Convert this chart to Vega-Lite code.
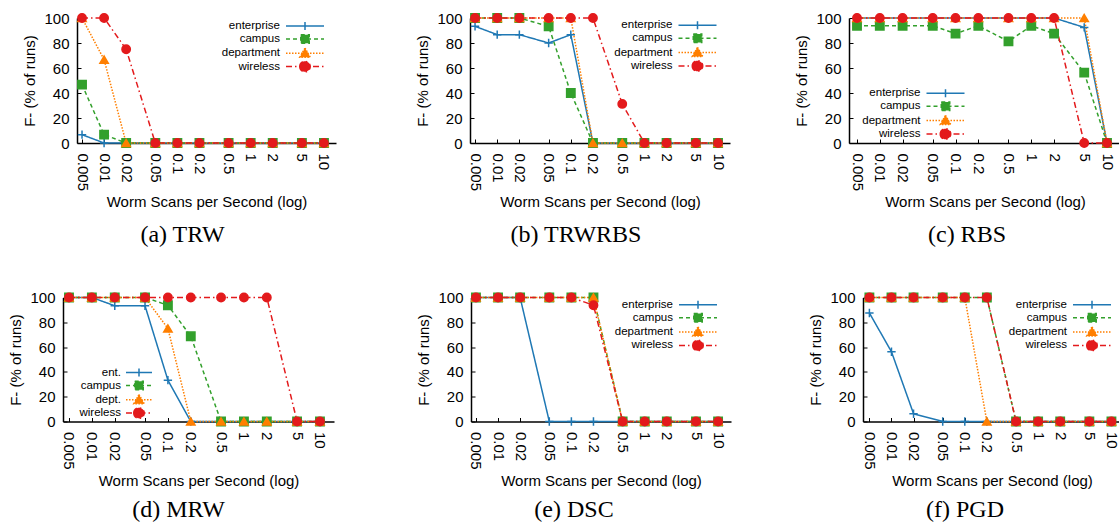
{
"$schema": "https://vega.github.io/schema/vega-lite/v6.json",
"padding": {"left": 8, "top": 10, "right": 0, "bottom": 0},
"background": "white",
"data": {"values": [
{"p":"a","s":"enterprise","x":0.005,"y":6.67},{"p":"a","s":"enterprise","x":0.01,"y":0},{"p":"a","s":"enterprise","x":0.02,"y":0},{"p":"a","s":"enterprise","x":0.05,"y":0},{"p":"a","s":"enterprise","x":0.1,"y":0},{"p":"a","s":"enterprise","x":0.2,"y":0},{"p":"a","s":"enterprise","x":0.5,"y":0},{"p":"a","s":"enterprise","x":1,"y":0},{"p":"a","s":"enterprise","x":2,"y":0},{"p":"a","s":"enterprise","x":5,"y":0},{"p":"a","s":"enterprise","x":10,"y":0},
{"p":"a","s":"campus","x":0.005,"y":46.67},{"p":"a","s":"campus","x":0.01,"y":6.67},{"p":"a","s":"campus","x":0.02,"y":0},{"p":"a","s":"campus","x":0.05,"y":0},{"p":"a","s":"campus","x":0.1,"y":0},{"p":"a","s":"campus","x":0.2,"y":0},{"p":"a","s":"campus","x":0.5,"y":0},{"p":"a","s":"campus","x":1,"y":0},{"p":"a","s":"campus","x":2,"y":0},{"p":"a","s":"campus","x":5,"y":0},{"p":"a","s":"campus","x":10,"y":0},
{"p":"a","s":"department","x":0.005,"y":100},{"p":"a","s":"department","x":0.01,"y":66.67},{"p":"a","s":"department","x":0.02,"y":0},{"p":"a","s":"department","x":0.05,"y":0},{"p":"a","s":"department","x":0.1,"y":0},{"p":"a","s":"department","x":0.2,"y":0},{"p":"a","s":"department","x":0.5,"y":0},{"p":"a","s":"department","x":1,"y":0},{"p":"a","s":"department","x":2,"y":0},{"p":"a","s":"department","x":5,"y":0},{"p":"a","s":"department","x":10,"y":0},
{"p":"a","s":"wireless","x":0.005,"y":100},{"p":"a","s":"wireless","x":0.01,"y":100},{"p":"a","s":"wireless","x":0.02,"y":75},{"p":"a","s":"wireless","x":0.05,"y":0},{"p":"a","s":"wireless","x":0.1,"y":0},{"p":"a","s":"wireless","x":0.2,"y":0},{"p":"a","s":"wireless","x":0.5,"y":0},{"p":"a","s":"wireless","x":1,"y":0},{"p":"a","s":"wireless","x":2,"y":0},{"p":"a","s":"wireless","x":5,"y":0},{"p":"a","s":"wireless","x":10,"y":0},
{"p":"b","s":"enterprise","x":0.005,"y":93.33},{"p":"b","s":"enterprise","x":0.01,"y":86.67},{"p":"b","s":"enterprise","x":0.02,"y":86.67},{"p":"b","s":"enterprise","x":0.05,"y":80},{"p":"b","s":"enterprise","x":0.1,"y":86.67},{"p":"b","s":"enterprise","x":0.2,"y":0},{"p":"b","s":"enterprise","x":0.5,"y":0},{"p":"b","s":"enterprise","x":1,"y":0},{"p":"b","s":"enterprise","x":2,"y":0},{"p":"b","s":"enterprise","x":5,"y":0},{"p":"b","s":"enterprise","x":10,"y":0},
{"p":"b","s":"campus","x":0.005,"y":100},{"p":"b","s":"campus","x":0.01,"y":100},{"p":"b","s":"campus","x":0.02,"y":100},{"p":"b","s":"campus","x":0.05,"y":93.33},{"p":"b","s":"campus","x":0.1,"y":40},{"p":"b","s":"campus","x":0.2,"y":0},{"p":"b","s":"campus","x":0.5,"y":0},{"p":"b","s":"campus","x":1,"y":0},{"p":"b","s":"campus","x":2,"y":0},{"p":"b","s":"campus","x":5,"y":0},{"p":"b","s":"campus","x":10,"y":0},
{"p":"b","s":"department","x":0.005,"y":100},{"p":"b","s":"department","x":0.01,"y":100},{"p":"b","s":"department","x":0.02,"y":100},{"p":"b","s":"department","x":0.05,"y":100},{"p":"b","s":"department","x":0.1,"y":100},{"p":"b","s":"department","x":0.2,"y":0},{"p":"b","s":"department","x":0.5,"y":0},{"p":"b","s":"department","x":1,"y":0},{"p":"b","s":"department","x":2,"y":0},{"p":"b","s":"department","x":5,"y":0},{"p":"b","s":"department","x":10,"y":0},
{"p":"b","s":"wireless","x":0.005,"y":100},{"p":"b","s":"wireless","x":0.01,"y":100},{"p":"b","s":"wireless","x":0.02,"y":100},{"p":"b","s":"wireless","x":0.05,"y":100},{"p":"b","s":"wireless","x":0.1,"y":100},{"p":"b","s":"wireless","x":0.2,"y":100},{"p":"b","s":"wireless","x":0.5,"y":31.25},{"p":"b","s":"wireless","x":1,"y":0},{"p":"b","s":"wireless","x":2,"y":0},{"p":"b","s":"wireless","x":5,"y":0},{"p":"b","s":"wireless","x":10,"y":0},
{"p":"c","s":"enterprise","x":0.005,"y":100},{"p":"c","s":"enterprise","x":0.01,"y":100},{"p":"c","s":"enterprise","x":0.02,"y":100},{"p":"c","s":"enterprise","x":0.05,"y":100},{"p":"c","s":"enterprise","x":0.1,"y":100},{"p":"c","s":"enterprise","x":0.2,"y":100},{"p":"c","s":"enterprise","x":0.5,"y":100},{"p":"c","s":"enterprise","x":1,"y":100},{"p":"c","s":"enterprise","x":2,"y":100},{"p":"c","s":"enterprise","x":5,"y":92.5},{"p":"c","s":"enterprise","x":10,"y":0},
{"p":"c","s":"campus","x":0.005,"y":93.75},{"p":"c","s":"campus","x":0.01,"y":93.75},{"p":"c","s":"campus","x":0.02,"y":93.75},{"p":"c","s":"campus","x":0.05,"y":93.75},{"p":"c","s":"campus","x":0.1,"y":87.5},{"p":"c","s":"campus","x":0.2,"y":93.75},{"p":"c","s":"campus","x":0.5,"y":81.25},{"p":"c","s":"campus","x":1,"y":93.75},{"p":"c","s":"campus","x":2,"y":87.5},{"p":"c","s":"campus","x":5,"y":56.25},{"p":"c","s":"campus","x":10,"y":0},
{"p":"c","s":"department","x":0.005,"y":100},{"p":"c","s":"department","x":0.01,"y":100},{"p":"c","s":"department","x":0.02,"y":100},{"p":"c","s":"department","x":0.05,"y":100},{"p":"c","s":"department","x":0.1,"y":100},{"p":"c","s":"department","x":0.2,"y":100},{"p":"c","s":"department","x":0.5,"y":100},{"p":"c","s":"department","x":1,"y":100},{"p":"c","s":"department","x":2,"y":100},{"p":"c","s":"department","x":5,"y":100},{"p":"c","s":"department","x":10,"y":0},
{"p":"c","s":"wireless","x":0.005,"y":100},{"p":"c","s":"wireless","x":0.01,"y":100},{"p":"c","s":"wireless","x":0.02,"y":100},{"p":"c","s":"wireless","x":0.05,"y":100},{"p":"c","s":"wireless","x":0.1,"y":100},{"p":"c","s":"wireless","x":0.2,"y":100},{"p":"c","s":"wireless","x":0.5,"y":100},{"p":"c","s":"wireless","x":1,"y":100},{"p":"c","s":"wireless","x":2,"y":100},{"p":"c","s":"wireless","x":5,"y":0},{"p":"c","s":"wireless","x":10,"y":0},
{"p":"d","s":"enterprise","x":0.005,"y":100},{"p":"d","s":"enterprise","x":0.01,"y":100},{"p":"d","s":"enterprise","x":0.02,"y":93.33},{"p":"d","s":"enterprise","x":0.05,"y":93.33},{"p":"d","s":"enterprise","x":0.1,"y":33.33},{"p":"d","s":"enterprise","x":0.2,"y":0},{"p":"d","s":"enterprise","x":0.5,"y":0},{"p":"d","s":"enterprise","x":1,"y":0},{"p":"d","s":"enterprise","x":2,"y":0},{"p":"d","s":"enterprise","x":5,"y":0},{"p":"d","s":"enterprise","x":10,"y":0},
{"p":"d","s":"campus","x":0.005,"y":100},{"p":"d","s":"campus","x":0.01,"y":100},{"p":"d","s":"campus","x":0.02,"y":100},{"p":"d","s":"campus","x":0.05,"y":100},{"p":"d","s":"campus","x":0.1,"y":93.75},{"p":"d","s":"campus","x":0.2,"y":68.75},{"p":"d","s":"campus","x":0.5,"y":0},{"p":"d","s":"campus","x":1,"y":0},{"p":"d","s":"campus","x":2,"y":0},{"p":"d","s":"campus","x":5,"y":0},{"p":"d","s":"campus","x":10,"y":0},
{"p":"d","s":"department","x":0.005,"y":100},{"p":"d","s":"department","x":0.01,"y":100},{"p":"d","s":"department","x":0.02,"y":100},{"p":"d","s":"department","x":0.05,"y":100},{"p":"d","s":"department","x":0.1,"y":75},{"p":"d","s":"department","x":0.2,"y":0},{"p":"d","s":"department","x":0.5,"y":0},{"p":"d","s":"department","x":1,"y":0},{"p":"d","s":"department","x":2,"y":0},{"p":"d","s":"department","x":5,"y":0},{"p":"d","s":"department","x":10,"y":0},
{"p":"d","s":"wireless","x":0.005,"y":100},{"p":"d","s":"wireless","x":0.01,"y":100},{"p":"d","s":"wireless","x":0.02,"y":100},{"p":"d","s":"wireless","x":0.05,"y":100},{"p":"d","s":"wireless","x":0.1,"y":100},{"p":"d","s":"wireless","x":0.2,"y":100},{"p":"d","s":"wireless","x":0.5,"y":100},{"p":"d","s":"wireless","x":1,"y":100},{"p":"d","s":"wireless","x":2,"y":100},{"p":"d","s":"wireless","x":5,"y":0},{"p":"d","s":"wireless","x":10,"y":0},
{"p":"e","s":"enterprise","x":0.005,"y":100},{"p":"e","s":"enterprise","x":0.01,"y":100},{"p":"e","s":"enterprise","x":0.02,"y":100},{"p":"e","s":"enterprise","x":0.05,"y":0},{"p":"e","s":"enterprise","x":0.1,"y":0},{"p":"e","s":"enterprise","x":0.2,"y":0},{"p":"e","s":"enterprise","x":0.5,"y":0},{"p":"e","s":"enterprise","x":1,"y":0},{"p":"e","s":"enterprise","x":2,"y":0},{"p":"e","s":"enterprise","x":5,"y":0},{"p":"e","s":"enterprise","x":10,"y":0},
{"p":"e","s":"campus","x":0.005,"y":100},{"p":"e","s":"campus","x":0.01,"y":100},{"p":"e","s":"campus","x":0.02,"y":100},{"p":"e","s":"campus","x":0.05,"y":100},{"p":"e","s":"campus","x":0.1,"y":100},{"p":"e","s":"campus","x":0.2,"y":100},{"p":"e","s":"campus","x":0.5,"y":0},{"p":"e","s":"campus","x":1,"y":0},{"p":"e","s":"campus","x":2,"y":0},{"p":"e","s":"campus","x":5,"y":0},{"p":"e","s":"campus","x":10,"y":0},
{"p":"e","s":"department","x":0.005,"y":100},{"p":"e","s":"department","x":0.01,"y":100},{"p":"e","s":"department","x":0.02,"y":100},{"p":"e","s":"department","x":0.05,"y":100},{"p":"e","s":"department","x":0.1,"y":100},{"p":"e","s":"department","x":0.2,"y":100},{"p":"e","s":"department","x":0.5,"y":0},{"p":"e","s":"department","x":1,"y":0},{"p":"e","s":"department","x":2,"y":0},{"p":"e","s":"department","x":5,"y":0},{"p":"e","s":"department","x":10,"y":0},
{"p":"e","s":"wireless","x":0.005,"y":100},{"p":"e","s":"wireless","x":0.01,"y":100},{"p":"e","s":"wireless","x":0.02,"y":100},{"p":"e","s":"wireless","x":0.05,"y":100},{"p":"e","s":"wireless","x":0.1,"y":100},{"p":"e","s":"wireless","x":0.2,"y":93.75},{"p":"e","s":"wireless","x":0.5,"y":0},{"p":"e","s":"wireless","x":1,"y":0},{"p":"e","s":"wireless","x":2,"y":0},{"p":"e","s":"wireless","x":5,"y":0},{"p":"e","s":"wireless","x":10,"y":0},
{"p":"f","s":"enterprise","x":0.005,"y":87.5},{"p":"f","s":"enterprise","x":0.01,"y":56.25},{"p":"f","s":"enterprise","x":0.02,"y":6.25},{"p":"f","s":"enterprise","x":0.05,"y":0},{"p":"f","s":"enterprise","x":0.1,"y":0},{"p":"f","s":"enterprise","x":0.2,"y":0},{"p":"f","s":"enterprise","x":0.5,"y":0},{"p":"f","s":"enterprise","x":1,"y":0},{"p":"f","s":"enterprise","x":2,"y":0},{"p":"f","s":"enterprise","x":5,"y":0},{"p":"f","s":"enterprise","x":10,"y":0},
{"p":"f","s":"campus","x":0.005,"y":100},{"p":"f","s":"campus","x":0.01,"y":100},{"p":"f","s":"campus","x":0.02,"y":100},{"p":"f","s":"campus","x":0.05,"y":100},{"p":"f","s":"campus","x":0.1,"y":100},{"p":"f","s":"campus","x":0.2,"y":100},{"p":"f","s":"campus","x":0.5,"y":0},{"p":"f","s":"campus","x":1,"y":0},{"p":"f","s":"campus","x":2,"y":0},{"p":"f","s":"campus","x":5,"y":0},{"p":"f","s":"campus","x":10,"y":0},
{"p":"f","s":"department","x":0.005,"y":100},{"p":"f","s":"department","x":0.01,"y":100},{"p":"f","s":"department","x":0.02,"y":100},{"p":"f","s":"department","x":0.05,"y":100},{"p":"f","s":"department","x":0.1,"y":100},{"p":"f","s":"department","x":0.2,"y":0},{"p":"f","s":"department","x":0.5,"y":0},{"p":"f","s":"department","x":1,"y":0},{"p":"f","s":"department","x":2,"y":0},{"p":"f","s":"department","x":5,"y":0},{"p":"f","s":"department","x":10,"y":0},
{"p":"f","s":"wireless","x":0.005,"y":100},{"p":"f","s":"wireless","x":0.01,"y":100},{"p":"f","s":"wireless","x":0.02,"y":100},{"p":"f","s":"wireless","x":0.05,"y":100},{"p":"f","s":"wireless","x":0.1,"y":100},{"p":"f","s":"wireless","x":0.2,"y":100},{"p":"f","s":"wireless","x":0.5,"y":0},{"p":"f","s":"wireless","x":1,"y":0},{"p":"f","s":"wireless","x":2,"y":0},{"p":"f","s":"wireless","x":5,"y":0},{"p":"f","s":"wireless","x":10,"y":0}
]},
"config": {
  "view": {"stroke": null},
  "font": "Liberation Sans",
  "axis": {"domainColor": "#000", "domainWidth": 1.5, "tickColor": "#000", "tickSize": -4, "tickWidth": 1, "labelFont": "Liberation Sans", "labelFontSize": 15, "labelColor": "#000", "titleFont": "Liberation Sans", "titleFontSize": 15, "titleFontWeight": "normal", "titleColor": "#000", "grid": false},
  "title": {"font": "Liberation Serif", "fontSize": 24, "fontWeight": "normal", "color": "#000", "orient": "bottom", "anchor": "middle", "frame": "bounds"},
  "legend": {"orient": "none", "direction": "vertical", "padding": 0, "labelFont": "Liberation Sans", "labelFontSize": 11.5, "labelColor": "#000", "labelAlign": "right", "labelBaseline": "middle", "symbolSize": 100, "symbolStrokeWidth": 1.5, "symbolOpacity": 1, "rowPadding": -2.7, "labelOffset": -31}
},
"resolve": {"scale": {"color": "independent", "fill": "independent", "stroke": "independent", "shape": "independent", "strokeDash": "independent"}, "legend": {"color": "independent", "fill": "independent", "stroke": "independent", "shape": "independent", "strokeDash": "independent"}},
"columns": 1,
"spacing": 42.5,
"concat": [
{"resolve": {"scale": {"color": "independent", "fill": "independent", "stroke": "independent", "shape": "independent", "strokeDash": "independent"}, "legend": {"color": "independent", "fill": "independent", "stroke": "independent", "shape": "independent", "strokeDash": "independent"}},
 "spacing": 79,
 "hconcat": [
  {"width": 259, "height": 125,
   "transform": [{"filter": "datum.p === 'a'"}],
   "title": {"text": "(a) TRW", "dx": 3, "offset": 13},
   "encoding": {
     "x": {"field": "x", "type": "quantitative", "scale": {"type": "log", "domain": [0.00427, 14.6]}, "axis": {"title": "Worm Scans per Second (log)", "values": [0.005,0.01,0.02,0.05,0.1,0.2,0.5,1,2,5,10], "labelExpr": "'' + datum.value", "labelAngle": 90, "labelPadding": 14, "titlePadding": 4, "labelOverlap": false, "labelFlush": false, "labelBound": false}},
     "y": {"field": "y", "type": "quantitative", "scale": {"domain": [0, 100]}, "axis": {"title": "F- (% of runs)", "values": [0,20,40,60,80,100], "labelPadding": 12, "titlePadding": 6}}
   },
   "resolve": {"scale": {"fill": "independent", "stroke": "independent", "shape": "independent", "strokeDash": "independent"}, "legend": {"fill": "independent", "stroke": "independent", "shape": "independent", "strokeDash": "independent"}},
   "layer": [
    {"mark": {"type": "line", "strokeWidth": 1.5},
     "encoding": {
       "color": {"field": "s", "type": "nominal", "scale": {"domain": ["enterprise","campus","department","wireless"], "range": ["#1f78b4","#33a02c","#ff7f00","#e31a1c"]}, "legend": null},
       "strokeDash": {"field": "s", "type": "nominal", "scale": {"domain": ["enterprise","campus","department","wireless"], "range": [[1,0],[4,3],[1.5,1.5],[6,3,1.5,3]]}, "legend": null}
     }},
    {"mark": {"type": "point", "filled": true, "opacity": 1, "size": 70, "strokeWidth": 1.5},
     "encoding": {
       "fill": {"field": "s", "type": "nominal", "scale": {"domain": ["enterprise","campus","department","wireless"], "range": ["#1f78b4","#33a02c","#ff7f00","#e31a1c"]}, "legend": null},
       "stroke": {"field": "s", "type": "nominal", "scale": {"domain": ["enterprise","campus","department","wireless"], "range": ["#1f78b4","#33a02c","#ff7f00","#e31a1c"]}, "legend": null},
       "shape": {"field": "s", "type": "nominal", "scale": {"domain": ["enterprise","campus","department","wireless"], "range": ["M-1,0H1M0,-1V1","square","triangle-up","circle"]}, "legend": null}
     }},
    {"transform": [{"filter": "datum.x === 1"}],
     "mark": {"type": "point", "filled": true, "opacity": 0, "size": 100},
     "encoding": {
       "fill": {"field": "s", "type": "nominal", "scale": {"domain": ["enterprise","campus","department","wireless"], "range": ["#1f78b4","#33a02c","#ff7f00","#e31a1c"]}, "legend": {"title": null, "legendX": 222, "legendY": 2, "labelOffset": -31, "symbolOpacity": 1}},
       "stroke": {"field": "s", "type": "nominal", "scale": {"domain": ["enterprise","campus","department","wireless"], "range": ["#1f78b4","#33a02c","#ff7f00","#e31a1c"]}, "legend": {"title": null, "legendX": 222, "legendY": 2, "labelOffset": -31, "symbolOpacity": 1}},
       "shape": {"field": "s", "type": "nominal", "scale": {"domain": ["enterprise","campus","department","wireless"], "range": ["M-3.8,0H3.8M0,-0.8V0.8","M-3.8,0H3.8M-0.85,-0.85H0.85V0.85H-0.85Z","M-3.8,0H3.8M0,-1.05L1.05,0.8H-1.05Z","M-3.8,0H3.8M-1.05,0A1.05,1.05,0,1,1,1.05,0A1.05,1.05,0,1,1,-1.05,0Z"]}, "legend": {"title": null, "legendX": 222, "legendY": 2, "labelOffset": -31, "symbolOpacity": 1}},
       "strokeDash": {"field": "s", "type": "nominal", "scale": {"domain": ["enterprise","campus","department","wireless"], "range": [[1,0],[4,3],[1.5,1.5],[6,3,1.5,3]]}, "legend": {"title": null, "legendX": 222, "legendY": 2, "labelOffset": -31, "symbolOpacity": 1}}
     }}
   ]},
  {"resolve": {"scale": {"color": "independent", "fill": "independent", "stroke": "independent", "shape": "independent", "strokeDash": "independent"}, "legend": {"color": "independent", "fill": "independent", "stroke": "independent", "shape": "independent", "strokeDash": "independent"}},
   "spacing": 64,
   "hconcat": [
    {"width": 260, "height": 125,
     "transform": [{"filter": "datum.p === 'b'"}],
     "title": {"text": "(b) TRWRBS", "dx": 3, "offset": 13},
     "encoding": {
       "x": {"field": "x", "type": "quantitative", "scale": {"type": "log", "domain": [0.00427, 14.55]}, "axis": {"title": "Worm Scans per Second (log)", "values": [0.005,0.01,0.02,0.05,0.1,0.2,0.5,1,2,5,10], "labelExpr": "'' + datum.value", "labelAngle": 90, "labelPadding": 14, "titlePadding": 4, "labelOverlap": false, "labelFlush": false, "labelBound": false}},
       "y": {"field": "y", "type": "quantitative", "scale": {"domain": [0, 100]}, "axis": {"title": "F- (% of runs)", "values": [0,20,40,60,80,100], "labelPadding": 12, "titlePadding": 6}}
     },
     "resolve": {"scale": {"fill": "independent", "stroke": "independent", "shape": "independent", "strokeDash": "independent"}, "legend": {"fill": "independent", "stroke": "independent", "shape": "independent", "strokeDash": "independent"}},
     "layer": [
      {"mark": {"type": "line", "strokeWidth": 1.5},
       "encoding": {
         "color": {"field": "s", "type": "nominal", "scale": {"domain": ["enterprise","campus","department","wireless"], "range": ["#1f78b4","#33a02c","#ff7f00","#e31a1c"]}, "legend": null},
         "strokeDash": {"field": "s", "type": "nominal", "scale": {"domain": ["enterprise","campus","department","wireless"], "range": [[1,0],[4,3],[1.5,1.5],[6,3,1.5,3]]}, "legend": null}
       }},
      {"mark": {"type": "point", "filled": true, "opacity": 1, "size": 70, "strokeWidth": 1.5},
       "encoding": {
         "fill": {"field": "s", "type": "nominal", "scale": {"domain": ["enterprise","campus","department","wireless"], "range": ["#1f78b4","#33a02c","#ff7f00","#e31a1c"]}, "legend": null},
         "stroke": {"field": "s", "type": "nominal", "scale": {"domain": ["enterprise","campus","department","wireless"], "range": ["#1f78b4","#33a02c","#ff7f00","#e31a1c"]}, "legend": null},
         "shape": {"field": "s", "type": "nominal", "scale": {"domain": ["enterprise","campus","department","wireless"], "range": ["M-1,0H1M0,-1V1","square","triangle-up","circle"]}, "legend": null}
       }},
      {"transform": [{"filter": "datum.x === 1"}],
       "mark": {"type": "point", "filled": true, "opacity": 0, "size": 100},
       "encoding": {
         "fill": {"field": "s", "type": "nominal", "scale": {"domain": ["enterprise","campus","department","wireless"], "range": ["#1f78b4","#33a02c","#ff7f00","#e31a1c"]}, "legend": {"title": null, "legendX": 221.5, "legendY": 1.3, "labelOffset": -31, "symbolOpacity": 1}},
         "stroke": {"field": "s", "type": "nominal", "scale": {"domain": ["enterprise","campus","department","wireless"], "range": ["#1f78b4","#33a02c","#ff7f00","#e31a1c"]}, "legend": {"title": null, "legendX": 221.5, "legendY": 1.3, "labelOffset": -31, "symbolOpacity": 1}},
         "shape": {"field": "s", "type": "nominal", "scale": {"domain": ["enterprise","campus","department","wireless"], "range": ["M-3.8,0H3.8M0,-0.8V0.8","M-3.8,0H3.8M-0.85,-0.85H0.85V0.85H-0.85Z","M-3.8,0H3.8M0,-1.05L1.05,0.8H-1.05Z","M-3.8,0H3.8M-1.05,0A1.05,1.05,0,1,1,1.05,0A1.05,1.05,0,1,1,-1.05,0Z"]}, "legend": {"title": null, "legendX": 221.5, "legendY": 1.3, "labelOffset": -31, "symbolOpacity": 1}},
         "strokeDash": {"field": "s", "type": "nominal", "scale": {"domain": ["enterprise","campus","department","wireless"], "range": [[1,0],[4,3],[1.5,1.5],[6,3,1.5,3]]}, "legend": {"title": null, "legendX": 221.5, "legendY": 1.3, "labelOffset": -31, "symbolOpacity": 1}}
       }}
     ]},
    {"width": 272, "height": 125,
     "transform": [{"filter": "datum.p === 'c'"}],
     "title": {"text": "(c) RBS", "dx": 9, "offset": 13},
     "encoding": {
       "x": {"field": "x", "type": "quantitative", "scale": {"type": "log", "domain": [0.00392, 15.3]}, "axis": {"title": "Worm Scans per Second (log)", "values": [0.005,0.01,0.02,0.05,0.1,0.2,0.5,1,2,5,10], "labelExpr": "'' + datum.value", "labelAngle": 90, "labelPadding": 14, "titlePadding": 4, "labelOverlap": false, "labelFlush": false, "labelBound": false}},
       "y": {"field": "y", "type": "quantitative", "scale": {"domain": [0, 100]}, "axis": {"title": "F- (% of runs)", "values": [0,20,40,60,80,100], "labelPadding": 12, "titlePadding": 6}}
     },
     "resolve": {"scale": {"fill": "independent", "stroke": "independent", "shape": "independent", "strokeDash": "independent"}, "legend": {"fill": "independent", "stroke": "independent", "shape": "independent", "strokeDash": "independent"}},
     "layer": [
      {"mark": {"type": "line", "strokeWidth": 1.5},
       "encoding": {
         "color": {"field": "s", "type": "nominal", "scale": {"domain": ["enterprise","campus","department","wireless"], "range": ["#1f78b4","#33a02c","#ff7f00","#e31a1c"]}, "legend": null},
         "strokeDash": {"field": "s", "type": "nominal", "scale": {"domain": ["enterprise","campus","department","wireless"], "range": [[1,0],[4,3],[1.5,1.5],[6,3,1.5,3]]}, "legend": null}
       }},
      {"mark": {"type": "point", "filled": true, "opacity": 1, "size": 70, "strokeWidth": 1.5},
       "encoding": {
         "fill": {"field": "s", "type": "nominal", "scale": {"domain": ["enterprise","campus","department","wireless"], "range": ["#1f78b4","#33a02c","#ff7f00","#e31a1c"]}, "legend": null},
         "stroke": {"field": "s", "type": "nominal", "scale": {"domain": ["enterprise","campus","department","wireless"], "range": ["#1f78b4","#33a02c","#ff7f00","#e31a1c"]}, "legend": null},
         "shape": {"field": "s", "type": "nominal", "scale": {"domain": ["enterprise","campus","department","wireless"], "range": ["M-1,0H1M0,-1V1","square","triangle-up","circle"]}, "legend": null}
       }},
      {"transform": [{"filter": "datum.x === 1"}],
       "mark": {"type": "point", "filled": true, "opacity": 0, "size": 100},
       "encoding": {
         "fill": {"field": "s", "type": "nominal", "scale": {"domain": ["enterprise","campus","department","wireless"], "range": ["#1f78b4","#33a02c","#ff7f00","#e31a1c"]}, "legend": {"title": null, "legendX": 90.5, "legendY": 69.3, "labelOffset": -31, "symbolOpacity": 1}},
         "stroke": {"field": "s", "type": "nominal", "scale": {"domain": ["enterprise","campus","department","wireless"], "range": ["#1f78b4","#33a02c","#ff7f00","#e31a1c"]}, "legend": {"title": null, "legendX": 90.5, "legendY": 69.3, "labelOffset": -31, "symbolOpacity": 1}},
         "shape": {"field": "s", "type": "nominal", "scale": {"domain": ["enterprise","campus","department","wireless"], "range": ["M-3.8,0H3.8M0,-0.8V0.8","M-3.8,0H3.8M-0.85,-0.85H0.85V0.85H-0.85Z","M-3.8,0H3.8M0,-1.05L1.05,0.8H-1.05Z","M-3.8,0H3.8M-1.05,0A1.05,1.05,0,1,1,1.05,0A1.05,1.05,0,1,1,-1.05,0Z"]}, "legend": {"title": null, "legendX": 90.5, "legendY": 69.3, "labelOffset": -31, "symbolOpacity": 1}},
         "strokeDash": {"field": "s", "type": "nominal", "scale": {"domain": ["enterprise","campus","department","wireless"], "range": [[1,0],[4,3],[1.5,1.5],[6,3,1.5,3]]}, "legend": {"title": null, "legendX": 90.5, "legendY": 69.3, "labelOffset": -31, "symbolOpacity": 1}}
       }}
     ]}
   ]}
 ]},
{"resolve": {"scale": {"color": "independent", "fill": "independent", "stroke": "independent", "shape": "independent", "strokeDash": "independent"}, "legend": {"color": "independent", "fill": "independent", "stroke": "independent", "shape": "independent", "strokeDash": "independent"}},
 "spacing": 68,
 "hconcat": [
  {"width": 257, "height": 124,
   "transform": [{"filter": "datum.p === 'd'"}],
   "title": {"text": "(d) MRW", "dx": 0, "offset": 10},
   "encoding": {
     "x": {"field": "x", "type": "quantitative", "scale": {"type": "log", "domain": [0.00417, 15.3], "range": [-14, 257]}, "axis": {"title": "Worm Scans per Second (log)", "values": [0.005,0.01,0.02,0.05,0.1,0.2,0.5,1,2,5,10], "labelExpr": "'' + datum.value", "labelAngle": 90, "labelPadding": 14, "titlePadding": 4, "labelOverlap": false, "labelFlush": false, "labelBound": false}},
     "y": {"field": "y", "type": "quantitative", "scale": {"domain": [0, 100]}, "axis": {"title": "F- (% of runs)", "values": [0,20,40,60,80,100], "labelPadding": 12, "titlePadding": 6, "offset": 14}}
   },
   "resolve": {"scale": {"fill": "independent", "stroke": "independent", "shape": "independent", "strokeDash": "independent"}, "legend": {"fill": "independent", "stroke": "independent", "shape": "independent", "strokeDash": "independent"}},
   "layer": [
    {"mark": {"type": "line", "strokeWidth": 1.5},
     "encoding": {
       "color": {"field": "s", "type": "nominal", "scale": {"domain": ["enterprise","campus","department","wireless"], "range": ["#1f78b4","#33a02c","#ff7f00","#e31a1c"]}, "legend": null},
       "strokeDash": {"field": "s", "type": "nominal", "scale": {"domain": ["enterprise","campus","department","wireless"], "range": [[1,0],[4,3],[1.5,1.5],[6,3,1.5,3]]}, "legend": null}
     }},
    {"mark": {"type": "point", "filled": true, "opacity": 1, "size": 70, "strokeWidth": 1.5},
     "encoding": {
       "fill": {"field": "s", "type": "nominal", "scale": {"domain": ["enterprise","campus","department","wireless"], "range": ["#1f78b4","#33a02c","#ff7f00","#e31a1c"]}, "legend": null},
       "stroke": {"field": "s", "type": "nominal", "scale": {"domain": ["enterprise","campus","department","wireless"], "range": ["#1f78b4","#33a02c","#ff7f00","#e31a1c"]}, "legend": null},
       "shape": {"field": "s", "type": "nominal", "scale": {"domain": ["enterprise","campus","department","wireless"], "range": ["M-1,0H1M0,-1V1","square","triangle-up","circle"]}, "legend": null}
     }},
    {"transform": [{"filter": "datum.x === 1"}],
     "mark": {"type": "point", "filled": true, "opacity": 0, "size": 100},
     "encoding": {
       "fill": {"field": "s", "type": "nominal", "scale": {"domain": ["enterprise","campus","department","wireless"], "range": ["#1f78b4","#33a02c","#ff7f00","#e31a1c"]}, "legend": {"title": null, "legendX": 56, "legendY": 69, "labelOffset": -24, "symbolOpacity": 1, "labelExpr": "datum.label === 'enterprise' ? 'ent.' : datum.label === 'department' ? 'dept.' : datum.label"}},
       "stroke": {"field": "s", "type": "nominal", "scale": {"domain": ["enterprise","campus","department","wireless"], "range": ["#1f78b4","#33a02c","#ff7f00","#e31a1c"]}, "legend": {"title": null, "legendX": 56, "legendY": 69, "labelOffset": -24, "symbolOpacity": 1, "labelExpr": "datum.label === 'enterprise' ? 'ent.' : datum.label === 'department' ? 'dept.' : datum.label"}},
       "shape": {"field": "s", "type": "nominal", "scale": {"domain": ["enterprise","campus","department","wireless"], "range": ["M-2.6,0H2.6M0,-0.8V0.8","M-2.6,0H2.6M-0.85,-0.85H0.85V0.85H-0.85Z","M-2.6,0H2.6M0,-1.05L1.05,0.8H-1.05Z","M-2.6,0H2.6M-1.05,0A1.05,1.05,0,1,1,1.05,0A1.05,1.05,0,1,1,-1.05,0Z"]}, "legend": {"title": null, "legendX": 56, "legendY": 69, "labelOffset": -24, "symbolOpacity": 1, "labelExpr": "datum.label === 'enterprise' ? 'ent.' : datum.label === 'department' ? 'dept.' : datum.label"}},
       "strokeDash": {"field": "s", "type": "nominal", "scale": {"domain": ["enterprise","campus","department","wireless"], "range": [[1,0],[4,3],[1.5,1.5],[6,3,1.5,3]]}, "legend": {"title": null, "legendX": 56, "legendY": 69, "labelOffset": -24, "symbolOpacity": 1, "labelExpr": "datum.label === 'enterprise' ? 'ent.' : datum.label === 'department' ? 'dept.' : datum.label"}}
     }}
   ]},
  {"resolve": {"scale": {"color": "independent", "fill": "independent", "stroke": "independent", "shape": "independent", "strokeDash": "independent"}, "legend": {"color": "independent", "fill": "independent", "stroke": "independent", "shape": "independent", "strokeDash": "independent"}},
   "spacing": 77,
   "hconcat": [
    {"width": 260, "height": 124,
     "transform": [{"filter": "datum.p === 'e'"}],
     "title": {"text": "(e) DSC", "dx": 0, "offset": 10},
     "encoding": {
       "x": {"field": "x", "type": "quantitative", "scale": {"type": "log", "domain": [0.00428, 15.0]}, "axis": {"title": "Worm Scans per Second (log)", "values": [0.005,0.01,0.02,0.05,0.1,0.2,0.5,1,2,5,10], "labelExpr": "'' + datum.value", "labelAngle": 90, "labelPadding": 14, "titlePadding": 4, "labelOverlap": false, "labelFlush": false, "labelBound": false}},
       "y": {"field": "y", "type": "quantitative", "scale": {"domain": [0, 100]}, "axis": {"title": "F- (% of runs)", "values": [0,20,40,60,80,100], "labelPadding": 12, "titlePadding": 6}}
     },
     "resolve": {"scale": {"fill": "independent", "stroke": "independent", "shape": "independent", "strokeDash": "independent"}, "legend": {"fill": "independent", "stroke": "independent", "shape": "independent", "strokeDash": "independent"}},
     "layer": [
      {"mark": {"type": "line", "strokeWidth": 1.5},
       "encoding": {
         "color": {"field": "s", "type": "nominal", "scale": {"domain": ["enterprise","campus","department","wireless"], "range": ["#1f78b4","#33a02c","#ff7f00","#e31a1c"]}, "legend": null},
         "strokeDash": {"field": "s", "type": "nominal", "scale": {"domain": ["enterprise","campus","department","wireless"], "range": [[1,0],[4,3],[1.5,1.5],[6,3,1.5,3]]}, "legend": null}
       }},
      {"mark": {"type": "point", "filled": true, "opacity": 1, "size": 70, "strokeWidth": 1.5},
       "encoding": {
         "fill": {"field": "s", "type": "nominal", "scale": {"domain": ["enterprise","campus","department","wireless"], "range": ["#1f78b4","#33a02c","#ff7f00","#e31a1c"]}, "legend": null},
         "stroke": {"field": "s", "type": "nominal", "scale": {"domain": ["enterprise","campus","department","wireless"], "range": ["#1f78b4","#33a02c","#ff7f00","#e31a1c"]}, "legend": null},
         "shape": {"field": "s", "type": "nominal", "scale": {"domain": ["enterprise","campus","department","wireless"], "range": ["M-1,0H1M0,-1V1","square","triangle-up","circle"]}, "legend": null}
       }},
      {"transform": [{"filter": "datum.x === 1"}],
       "mark": {"type": "point", "filled": true, "opacity": 0, "size": 100},
       "encoding": {
         "fill": {"field": "s", "type": "nominal", "scale": {"domain": ["enterprise","campus","department","wireless"], "range": ["#1f78b4","#33a02c","#ff7f00","#e31a1c"]}, "legend": {"title": null, "legendX": 221, "legendY": 1.3, "labelOffset": -31, "symbolOpacity": 1}},
         "stroke": {"field": "s", "type": "nominal", "scale": {"domain": ["enterprise","campus","department","wireless"], "range": ["#1f78b4","#33a02c","#ff7f00","#e31a1c"]}, "legend": {"title": null, "legendX": 221, "legendY": 1.3, "labelOffset": -31, "symbolOpacity": 1}},
         "shape": {"field": "s", "type": "nominal", "scale": {"domain": ["enterprise","campus","department","wireless"], "range": ["M-3.8,0H3.8M0,-0.8V0.8","M-3.8,0H3.8M-0.85,-0.85H0.85V0.85H-0.85Z","M-3.8,0H3.8M0,-1.05L1.05,0.8H-1.05Z","M-3.8,0H3.8M-1.05,0A1.05,1.05,0,1,1,1.05,0A1.05,1.05,0,1,1,-1.05,0Z"]}, "legend": {"title": null, "legendX": 221, "legendY": 1.3, "labelOffset": -31, "symbolOpacity": 1}},
         "strokeDash": {"field": "s", "type": "nominal", "scale": {"domain": ["enterprise","campus","department","wireless"], "range": [[1,0],[4,3],[1.5,1.5],[6,3,1.5,3]]}, "legend": {"title": null, "legendX": 221, "legendY": 1.3, "labelOffset": -31, "symbolOpacity": 1}}
       }}
     ]},
    {"width": 258, "height": 124,
     "transform": [{"filter": "datum.p === 'f'"}],
     "title": {"text": "(f) PGD", "dx": 0, "offset": 10},
     "encoding": {
       "x": {"field": "x", "type": "quantitative", "scale": {"type": "log", "domain": [0.00409, 13.5]}, "axis": {"title": "Worm Scans per Second (log)", "values": [0.005,0.01,0.02,0.05,0.1,0.2,0.5,1,2,5,10], "labelExpr": "'' + datum.value", "labelAngle": 90, "labelPadding": 14, "titlePadding": 4, "labelOverlap": false, "labelFlush": false, "labelBound": false}},
       "y": {"field": "y", "type": "quantitative", "scale": {"domain": [0, 100]}, "axis": {"title": "F- (% of runs)", "values": [0,20,40,60,80,100], "labelPadding": 12, "titlePadding": 6}}
     },
     "resolve": {"scale": {"fill": "independent", "stroke": "independent", "shape": "independent", "strokeDash": "independent"}, "legend": {"fill": "independent", "stroke": "independent", "shape": "independent", "strokeDash": "independent"}},
     "layer": [
      {"mark": {"type": "line", "strokeWidth": 1.5},
       "encoding": {
         "color": {"field": "s", "type": "nominal", "scale": {"domain": ["enterprise","campus","department","wireless"], "range": ["#1f78b4","#33a02c","#ff7f00","#e31a1c"]}, "legend": null},
         "strokeDash": {"field": "s", "type": "nominal", "scale": {"domain": ["enterprise","campus","department","wireless"], "range": [[1,0],[4,3],[1.5,1.5],[6,3,1.5,3]]}, "legend": null}
       }},
      {"mark": {"type": "point", "filled": true, "opacity": 1, "size": 70, "strokeWidth": 1.5},
       "encoding": {
         "fill": {"field": "s", "type": "nominal", "scale": {"domain": ["enterprise","campus","department","wireless"], "range": ["#1f78b4","#33a02c","#ff7f00","#e31a1c"]}, "legend": null},
         "stroke": {"field": "s", "type": "nominal", "scale": {"domain": ["enterprise","campus","department","wireless"], "range": ["#1f78b4","#33a02c","#ff7f00","#e31a1c"]}, "legend": null},
         "shape": {"field": "s", "type": "nominal", "scale": {"domain": ["enterprise","campus","department","wireless"], "range": ["M-1,0H1M0,-1V1","square","triangle-up","circle"]}, "legend": null}
       }},
      {"transform": [{"filter": "datum.x === 1"}],
       "mark": {"type": "point", "filled": true, "opacity": 0, "size": 100},
       "encoding": {
         "fill": {"field": "s", "type": "nominal", "scale": {"domain": ["enterprise","campus","department","wireless"], "range": ["#1f78b4","#33a02c","#ff7f00","#e31a1c"]}, "legend": {"title": null, "legendX": 223, "legendY": 1.3, "labelOffset": -31, "symbolOpacity": 1}},
         "stroke": {"field": "s", "type": "nominal", "scale": {"domain": ["enterprise","campus","department","wireless"], "range": ["#1f78b4","#33a02c","#ff7f00","#e31a1c"]}, "legend": {"title": null, "legendX": 223, "legendY": 1.3, "labelOffset": -31, "symbolOpacity": 1}},
         "shape": {"field": "s", "type": "nominal", "scale": {"domain": ["enterprise","campus","department","wireless"], "range": ["M-3.8,0H3.8M0,-0.8V0.8","M-3.8,0H3.8M-0.85,-0.85H0.85V0.85H-0.85Z","M-3.8,0H3.8M0,-1.05L1.05,0.8H-1.05Z","M-3.8,0H3.8M-1.05,0A1.05,1.05,0,1,1,1.05,0A1.05,1.05,0,1,1,-1.05,0Z"]}, "legend": {"title": null, "legendX": 223, "legendY": 1.3, "labelOffset": -31, "symbolOpacity": 1}},
         "strokeDash": {"field": "s", "type": "nominal", "scale": {"domain": ["enterprise","campus","department","wireless"], "range": [[1,0],[4,3],[1.5,1.5],[6,3,1.5,3]]}, "legend": {"title": null, "legendX": 223, "legendY": 1.3, "labelOffset": -31, "symbolOpacity": 1}}
       }}
     ]}
   ]}
 ]}
]
}
